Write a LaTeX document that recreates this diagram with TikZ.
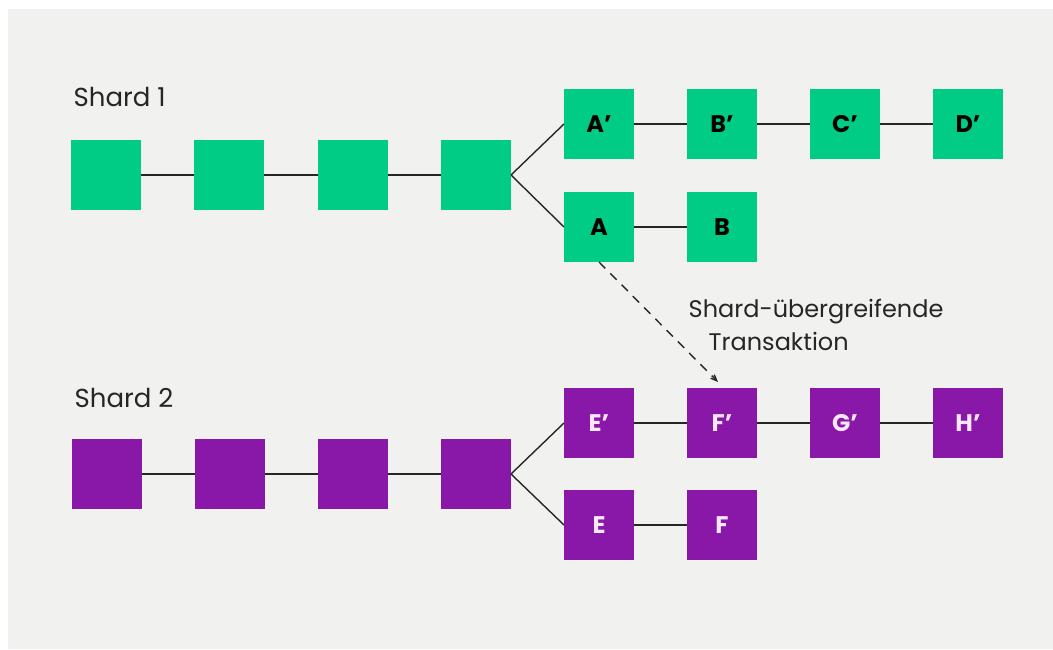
\documentclass[tikz,border=0pt]{standalone}
\usepackage{fontspec}
\setmainfont{Poppins}
\usetikzlibrary{arrows.meta}

\definecolor{shardgreen}{RGB}{0,204,134}
\definecolor{shardpurple}{RGB}{137,23,168}
\definecolor{bggray}{RGB}{241,241,240}
\definecolor{purpletext}{RGB}{250,232,250}

\tikzset{every picture/.style={line width=1.4pt}}
\tikzset{
  block/.style={minimum size=70pt,inner sep=0pt,outer sep=0pt,font=\bfseries\fontsize{24}{24}\selectfont},
  gblock/.style={block,fill=shardgreen,text=black},
  pblock/.style={block,fill=shardpurple,text=purpletext},
  link/.style={draw=black!85},
  label/.style={inner sep=0pt,font=\fontsize{26}{26}\selectfont,text=black!85},
}

\begin{document}
\begin{tikzpicture}[x=1pt,y=1pt,yscale=-1,xscale=1]
\useasboundingbox (0,0) rectangle (1053,650);
%Background
\fill [white] (0,0) rectangle (1053,650);
\fill [bggray] (8,9) rectangle (1053,649);

%Shard 1 chain
\node [gblock] (s1a) at (106,175) {};
\node [gblock] (s1b) at (229,175) {};
\node [gblock] (s1c) at (353,175) {};
\node [gblock] (s1d) at (476,175) {};
\node [gblock] (ap) at (599,124) {A’};
\node [gblock] (bp) at (722,124) {B’};
\node [gblock] (cp) at (845,124) {C’};
\node [gblock] (dp) at (968,124) {D’};
\node [gblock] (a) at (599,227) {A};
\node [gblock] (b) at (722,227) {B};

%Shard 2 chain
\node [pblock] (s2a) at (107,474) {};
\node [pblock] (s2b) at (230,474) {};
\node [pblock] (s2c) at (353,474) {};
\node [pblock] (s2d) at (476,474) {};
\node [pblock] (ep) at (599,423) {E’};
\node [pblock] (fp) at (722,423) {F’};
\node [pblock] (gp) at (845,423) {G’};
\node [pblock] (hp) at (968,423) {H’};
\node [pblock] (e) at (599,525) {E};
\node [pblock] (f) at (722,525) {F};

%Straight Lines
\draw [link] (s1a) -- (s1b) -- (s1c) -- (s1d);
\draw [link] (s1d.east) -- (ap.west);
\draw [link] (s1d.east) -- (a.west);
\draw [link] (ap) -- (bp) -- (cp) -- (dp);
\draw [link] (a) -- (b);
\draw [link] (s2a) -- (s2b) -- (s2c) -- (s2d);
\draw [link] (s2d.east) -- (ep.west);
\draw [link] (s2d.east) -- (e.west);
\draw [link] (ep) -- (fp) -- (gp) -- (hp);
\draw [link] (e) -- (f);

%Cross-shard arrow
\coordinate (tx) at (718,382);
\draw [link,dash pattern=on 9pt off 7pt,-{Straight Barb[angle'=45,length=6pt,line cap=butt]}] (a.south) -- (tx);

% Text Node
\node [label,anchor=base west] (l1) at (73,107) {Shard 1};
% Text Node
\node [label,anchor=base west] (l2) at (74,407) {Shard 2};
% Text Node
\node [label,anchor=base west,font=\fontsize{24}{24}\selectfont] (t1) at (688,317) {Shard-übergreifende};
% Text Node
\node [label,anchor=base west,font=\fontsize{24}{24}\selectfont] (t2) at (708,350) {Transaktion};

\end{tikzpicture}
\end{document}
